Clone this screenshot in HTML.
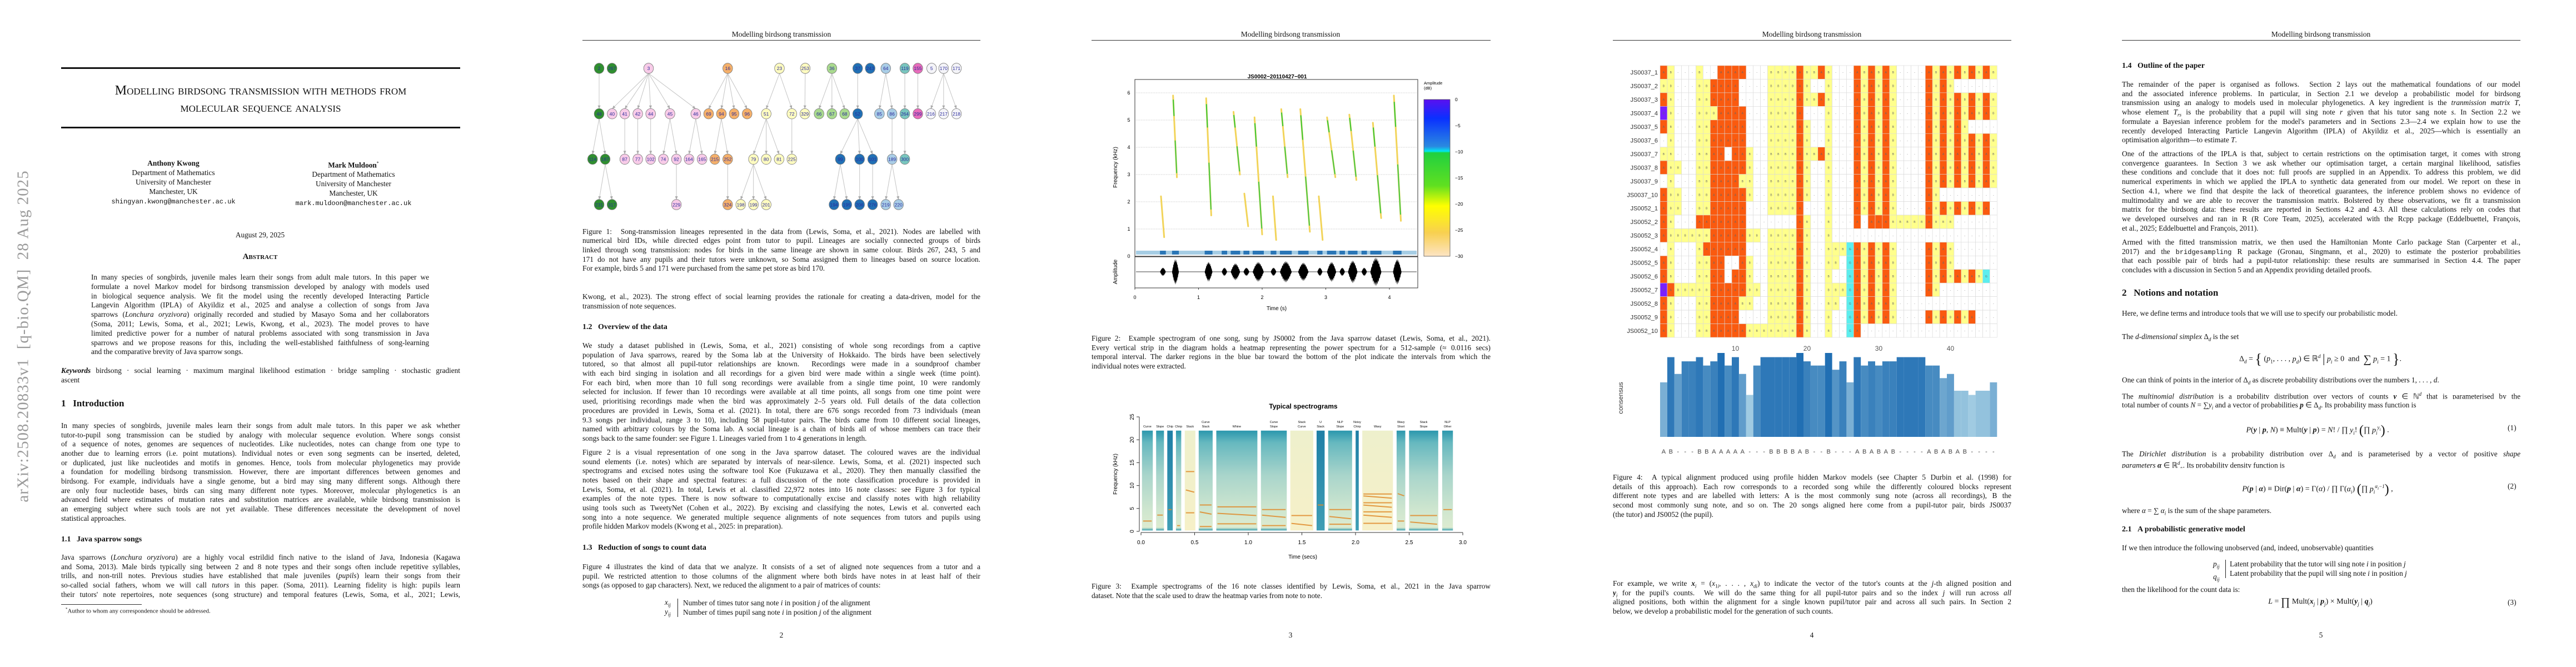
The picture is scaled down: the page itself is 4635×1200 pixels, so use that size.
<!DOCTYPE html>
<html><head><meta charset="utf-8">
<style>
html,body{margin:0;padding:0;background:#fff;}
#root{position:relative;width:4635px;height:1200px;overflow:hidden;background:#fff;font-family:"Liberation Serif",serif;color:#111;}
.t{position:absolute;font-family:"Liberation Serif",serif;font-size:13.3px;line-height:17px;height:17px;overflow:hidden;text-align:justify;text-align-last:justify;white-space:normal;}
.l{text-align-last:left;}
.c{text-align:center;text-align-last:center;}
.h{position:absolute;font-family:"Liberation Serif",serif;font-weight:bold;white-space:nowrap;}
.hdr{position:absolute;font-size:13.5px;white-space:nowrap;transform:translateX(-50%);top:54px;}
.rule{position:absolute;height:1px;background:#333;top:72px;}
.pn{position:absolute;top:1135px;font-size:13.5px;transform:translateX(-50%);}
.mono{font-family:"Liberation Mono",monospace;font-size:12px;}
.ctr{position:absolute;transform:translateX(-50%);white-space:nowrap;font-size:13.3px;line-height:17px;text-align:center;}
svg text{font-family:"Liberation Sans",sans-serif;}
</style></head>
<body>
<div id="root">
<svg id="fig" width="4635" height="1200" style="position:absolute;left:0;top:0" xmlns="http://www.w3.org/2000/svg"></svg>

<!-- arXiv stamp -->
<div style="position:absolute;left:42px;top:605px;transform:translate(-50%,-50%) rotate(-90deg);font-size:29px;color:#9a9a9a;white-space:nowrap;letter-spacing:1px;">arXiv:2508.20833v1 &nbsp;[q-bio.QM] &nbsp;28 Aug 2025</div>

<!-- ===== PAGE 1 ===== -->
<div style="position:absolute;left:110px;top:121px;width:718px;height:3px;background:#111"></div>
<div style="position:absolute;left:110px;top:148px;width:718px;text-align:center;font-size:24px;line-height:31px;font-variant:small-caps;">Modelling birdsong transmission with methods from<br>molecular sequence analysis</div>
<div style="position:absolute;left:110px;top:228px;width:718px;height:3px;background:#111"></div>

<div class="ctr" style="left:312px;top:285px;"><b>Anthony Kwong</b><br>Department of Mathematics<br>University of Manchester<br>Manchester, UK<br><span class="mono">shingyan.kwong@manchester.ac.uk</span></div>
<div class="ctr" style="left:636px;top:285px;"><b>Mark Muldoon</b><sup style="font-size:8px">*</sup><br>Department of Mathematics<br>University of Manchester<br>Manchester, UK<br><span class="mono">mark.muldoon@manchester.ac.uk</span></div>
<div class="ctr" style="left:468px;top:414px;">August 29, 2025</div>
<div class="ctr" style="left:468px;top:454px;font-weight:bold;font-variant:small-caps;font-size:15px;">Abstract</div>

<div class="t" style="left:164px;top:490px;width:608px">In many species of songbirds, juvenile males learn their songs from adult male tutors. In this paper we</div>
<div class="t" style="left:164px;top:507px;width:608px">formulate a novel Markov model for birdsong transmission developed by analogy with models used</div>
<div class="t" style="left:164px;top:524px;width:608px">in biological sequence analysis. We fit the model using the recently developed Interacting Particle</div>
<div class="t" style="left:164px;top:540px;width:608px">Langevin Algorithm (IPLA) of Akyildiz et al., 2025 and analyse a collection of songs from Java</div>
<div class="t" style="left:164px;top:557px;width:608px">sparrows (<i>Lonchura oryzivora</i>) originally recorded and studied by Masayo Soma and her collaborators</div>
<div class="t" style="left:164px;top:574px;width:608px">(Soma, 2011; Lewis, Soma, et al., 2021; Lewis, Kwong, et al., 2023). The model proves to have</div>
<div class="t" style="left:164px;top:591px;width:608px">limited predictive power for a number of natural problems associated with song transmission in Java</div>
<div class="t" style="left:164px;top:608px;width:608px">sparrows and we propose reasons for this, including the well-established faithfulness of song-learning</div>
<div class="t l" style="left:164px;top:624px;width:608px">and the comparative brevity of Java sparrow songs.</div>

<div class="t" style="left:110px;top:658px;width:718px"><b><i>Keywords</i></b> birdsong · social learning · maximum marginal likelihood estimation · bridge sampling · stochastic gradient</div>
<div class="t l" style="left:110px;top:675px;width:718px">ascent</div>

<div class="h" style="left:110px;top:716px;font-size:17px;">1&nbsp;&nbsp;&nbsp;Introduction</div>
<div class="t" style="left:110px;top:757px;width:718px">In many species of songbirds, juvenile males learn their songs from adult male tutors. In this paper we ask whether</div>
<div class="t" style="left:110px;top:774px;width:718px">tutor-to-pupil song transmission can be studied by analogy with molecular sequence evolution. Where songs consist</div>
<div class="t" style="left:110px;top:790px;width:718px">of a sequence of notes, genomes are sequences of nucleotides. Like nucleotides, notes can change from one type to</div>
<div class="t" style="left:110px;top:807px;width:718px">another due to learning errors (i.e. point mutations). Individual notes or even song segments can be inserted, deleted,</div>
<div class="t" style="left:110px;top:824px;width:718px">or duplicated, just like nucleotides and motifs in genomes. Hence, tools from molecular phylogenetics may provide</div>
<div class="t" style="left:110px;top:840px;width:718px">a foundation for modelling birdsong transmission. However, there are important differences between genomes and</div>
<div class="t" style="left:110px;top:857px;width:718px">birdsong. For example, individuals have a single genome, but a bird may sing many different songs. Although there</div>
<div class="t" style="left:110px;top:874px;width:718px">are only four nucleotide bases, birds can sing many different note types. Moreover, molecular phylogenetics is an</div>
<div class="t" style="left:110px;top:890px;width:718px">advanced field where estimates of mutation rates and substitution matrices are available, while birdsong transmission is</div>
<div class="t" style="left:110px;top:907px;width:718px">an emerging subject where such tools are not yet available. These differences necessitate the development of novel</div>
<div class="t l" style="left:110px;top:924px;width:718px">statistical approaches.</div>

<div class="h" style="left:110px;top:963px;font-size:14px;">1.1&nbsp;&nbsp;&nbsp;Java sparrow songs</div>
<div class="t" style="left:110px;top:994px;width:718px">Java sparrows (<i>Lonchura oryzivora</i>) are a highly vocal estrildid finch native to the island of Java, Indonesia (Kagawa</div>
<div class="t" style="left:110px;top:1011px;width:718px">and Soma, 2013). Male birds typically sing between 2 and 8 note types and their songs often include repetitive syllables,</div>
<div class="t" style="left:110px;top:1027px;width:718px">trills, and non-trill notes. Previous studies have established that male juveniles (<i>pupils</i>) learn their songs from their</div>
<div class="t" style="left:110px;top:1044px;width:718px">so-called social fathers, whom we will call <i>tutors</i> in this paper. (Soma, 2011). Learning fidelity is high: pupils learn</div>
<div class="t" style="left:110px;top:1061px;width:718px">their tutors' note repertoires, note sequences (song structure) and temporal features (Lewis, Soma, et al., 2021; Lewis,</div>
<div style="position:absolute;left:110px;top:1087px;width:145px;height:1px;background:#333"></div>
<div style="position:absolute;left:118px;top:1092px;font-size:11px;white-space:nowrap;"><sup style="font-size:7px">*</sup>Author to whom any correspondence should be addressed.</div>

<!-- ===== PAGE 2 ===== -->
<div class="hdr" style="left:1406px">Modelling birdsong transmission</div>
<div class="rule" style="left:1048px;width:716px"></div>
<div class="t" style="left:1048px;top:408px;width:716px">Figure 1:&nbsp; Song-transmission lineages represented in the data from (Lewis, Soma, et al., 2021). Nodes are labelled with</div>
<div class="t" style="left:1048px;top:424px;width:716px">numerical bird IDs, while directed edges point from tutor to pupil. Lineages are socially connected groups of birds</div>
<div class="t" style="left:1048px;top:441px;width:716px">linked through song transmission: nodes for birds in the same lineage are shown in same colour. Birds 267, 243, 5 and</div>
<div class="t" style="left:1048px;top:458px;width:716px">171 do not have any pupils and their tutors were unknown, so Soma assigned them to lineages based on source location.</div>
<div class="t l" style="left:1048px;top:474px;width:716px">For example, birds 5 and 171 were purchased from the same pet store as bird 170.</div>

<div class="t" style="left:1048px;top:525px;width:716px">Kwong, et al., 2023). The strong effect of social learning provides the rationale for creating a data-driven, model for the</div>
<div class="t l" style="left:1048px;top:542px;width:716px">transmission of note sequences.</div>
<div class="h" style="left:1048px;top:581px;font-size:14px;">1.2&nbsp;&nbsp;&nbsp;Overview of the data</div>
<div class="t" style="left:1048px;top:613px;width:716px">We study a dataset published in (Lewis, Soma, et al., 2021) consisting of whole song recordings from a captive</div>
<div class="t" style="left:1048px;top:630px;width:716px">population of Java sparrows, reared by the Soma lab at the University of Hokkaido. The birds have been selectively</div>
<div class="t" style="left:1048px;top:646px;width:716px">tutored, so that almost all pupil-tutor relationships are known.&nbsp; Recordings were made in a soundproof chamber</div>
<div class="t" style="left:1048px;top:663px;width:716px">with each bird singing in isolation and all recordings for a given bird were made within a single week (time point).</div>
<div class="t" style="left:1048px;top:680px;width:716px">For each bird, when more than 10 full song recordings were available from a single time point, 10 were randomly</div>
<div class="t" style="left:1048px;top:696px;width:716px">selected for inclusion. If fewer than 10 recordings were available at all time points, all songs from one time point were</div>
<div class="t" style="left:1048px;top:713px;width:716px">used, prioritising recordings made when the bird was approximately 2–5 years old. Full details of the data collection</div>
<div class="t" style="left:1048px;top:730px;width:716px">procedures are provided in Lewis, Soma et al. (2021). In total, there are 676 songs recorded from 73 individuals (mean</div>
<div class="t" style="left:1048px;top:747px;width:716px">9.3 songs per individual, range 3 to 10), including 58 pupil-tutor pairs. The birds came from 10 different social lineages,</div>
<div class="t" style="left:1048px;top:763px;width:716px">named with arbitrary colours by the Soma lab. A social lineage is a chain of birds all of whose members can trace their</div>
<div class="t l" style="left:1048px;top:780px;width:716px">songs back to the same founder: see Figure 1. Lineages varied from 1 to 4 generations in length.</div>

<div class="t" style="left:1048px;top:805px;width:716px">Figure 2 is a visual representation of one song in the Java sparrow dataset. The coloured waves are the individual</div>
<div class="t" style="left:1048px;top:822px;width:716px">sound elements (i.e. notes) which are separated by intervals of near-silence. Lewis, Soma, et al. (2021) inspected such</div>
<div class="t" style="left:1048px;top:838px;width:716px">spectrograms and excised notes using the software tool Koe (Fukuzawa et al., 2020). They then manually classified the</div>
<div class="t" style="left:1048px;top:855px;width:716px">notes based on their shape and spectral features: a full discussion of the note classification procedure is provided in</div>
<div class="t" style="left:1048px;top:872px;width:716px">Lewis, Soma, et al. (2021). In total, Lewis et al. classified 22,972 notes into 16 note classes: see Figure 3 for typical</div>
<div class="t" style="left:1048px;top:888px;width:716px">examples of the note types. There is now software to computationally excise and classify notes with high reliability</div>
<div class="t" style="left:1048px;top:905px;width:716px">using tools such as TweetyNet (Cohen et al., 2022). By excising and classifying the notes, Lewis et al. converted each</div>
<div class="t" style="left:1048px;top:922px;width:716px">song into a note sequence. We generated multiple sequence alignments of note sequences from tutors and pupils using</div>
<div class="t l" style="left:1048px;top:938px;width:716px">profile hidden Markov models (Kwong et al., 2025: in preparation).</div>

<div class="h" style="left:1048px;top:978px;font-size:14px;">1.3&nbsp;&nbsp;&nbsp;Reduction of songs to count data</div>
<div class="t" style="left:1048px;top:1011px;width:716px">Figure 4 illustrates the kind of data that we analyze. It consists of a set of aligned note sequences from a tutor and a</div>
<div class="t" style="left:1048px;top:1028px;width:716px">pupil. We restricted attention to those columns of the alignment where both birds have notes in at least half of their</div>
<div class="t l" style="left:1048px;top:1044px;width:716px">songs (as opposed to gap characters). Next, we reduced the alignment to a pair of matrices of counts:</div>
<div style="position:absolute;left:1196px;top:1076px;font-size:13.3px;white-space:nowrap;"><i>x<sub style="font-size:9px">ij</sub></i></div>
<div style="position:absolute;left:1196px;top:1093px;font-size:13.3px;white-space:nowrap;"><i>y<sub style="font-size:9px">ij</sub></i></div>
<div style="position:absolute;left:1219px;top:1077px;width:1px;height:33px;background:#222"></div>
<div style="position:absolute;left:1229px;top:1076px;font-size:13.3px;line-height:17px;white-space:nowrap;">Number of times tutor sang note <i>i</i> in position <i>j</i> of the alignment<br>Number of times pupil sang note <i>i</i> in position <i>j</i> of the alignment</div>
<div class="pn" style="left:1406px">2</div>

<!-- ===== PAGE 3 ===== -->
<div class="hdr" style="left:2322px">Modelling birdsong transmission</div>
<div class="rule" style="left:1964px;width:718px"></div>
<div class="t" style="left:1964px;top:600px;width:718px">Figure 2:&nbsp; Example spectrogram of one song, sung by JS0002 from the Java sparrow dataset (Lewis, Soma, et al., 2021).</div>
<div class="t" style="left:1964px;top:617px;width:718px">Every vertical strip in the diagram holds a heatmap representing the power spectrum for a 512-sample (≈ 0.0116 secs)</div>
<div class="t" style="left:1964px;top:633px;width:718px">temporal interval. The darker regions in the blue bar toward the bottom of the plot indicate the intervals from which the</div>
<div class="t l" style="left:1964px;top:650px;width:718px">individual notes were extracted.</div>
<div class="t" style="left:1964px;top:1046px;width:718px">Figure 3:&nbsp; Example spectrograms of the 16 note classes identified by Lewis, Soma, et al., 2021 in the Java sparrow</div>
<div class="t l" style="left:1964px;top:1063px;width:718px">dataset. Note that the scale used to draw the heatmap varies from note to note.</div>
<div class="pn" style="left:2322px">3</div>

<!-- ===== PAGE 4 ===== -->
<div class="hdr" style="left:3260px">Modelling birdsong transmission</div>
<div class="rule" style="left:2902px;width:717px"></div>
<div class="t" style="left:2902px;top:850px;width:717px">Figure 4:&nbsp; A typical alignment produced using profile hidden Markov models (see Chapter 5 Durbin et al. (1998) for</div>
<div class="t" style="left:2902px;top:867px;width:717px">details of this approach). Each row corresponds to a recorded song while the differently coloured blocks represent</div>
<div class="t" style="left:2902px;top:883px;width:717px">different note types and are labelled with letters: A is the most commonly sung note (across all recordings), B the</div>
<div class="t" style="left:2902px;top:900px;width:717px">second most commonly sung note, and so on. The 20 songs aligned here come from a pupil-tutor pair, birds JS0037</div>
<div class="t l" style="left:2902px;top:917px;width:717px">(the tutor) and JS0052 (the pupil).</div>
<div class="t" style="left:2902px;top:1041px;width:717px">For example, we write <b><i>x</i></b><sub style="font-size:9px"><i>j</i></sub> = (<i>x</i><sub style="font-size:9px">1<i>j</i></sub>, . . . , <i>x<sub style="font-size:9px">dj</sub></i>) to indicate the vector of the tutor's counts at the <i>j</i>-th aligned position and</div>
<div class="t" style="left:2902px;top:1058px;width:717px"><b><i>y</i></b><sub style="font-size:9px"><i>j</i></sub> for the pupil's counts.&nbsp; We will do the same thing for all pupil-tutor pairs and so the index <i>j</i> will run across <i>all</i></div>
<div class="t" style="left:2902px;top:1074px;width:717px">aligned positions, both within the alignment for a single known pupil/tutor pair and across all such pairs. In Section 2</div>
<div class="t l" style="left:2902px;top:1091px;width:717px">below, we develop a probabilistic model for the generation of such counts.</div>
<div class="pn" style="left:3260px">4</div>

<!-- ===== PAGE 5 ===== -->
<div class="hdr" style="left:4176px">Modelling birdsong transmission</div>
<div class="rule" style="left:3818px;width:717px"></div>
<div class="h" style="left:3818px;top:111px;font-size:14px;">1.4&nbsp;&nbsp;&nbsp;Outline of the paper</div>
<div class="t" style="left:3818px;top:143px;width:717px">The remainder of the paper is organised as follows.&nbsp; Section 2 lays out the mathematical foundations of our model</div>
<div class="t" style="left:3818px;top:160px;width:717px">and the associated inference problems. In particular, in Section 2.1 we develop a probabilistic model for birdsong</div>
<div class="t" style="left:3818px;top:176px;width:717px">transmission using an analogy to models used in molecular phylogenetics. A key ingredient is the <i>tranmission matrix T</i>,</div>
<div class="t" style="left:3818px;top:193px;width:717px">whose element <i>T<sub style="font-size:9px">rs</sub></i> is the probability that a pupil will sing note <i>r</i> given that his tutor sang note <i>s</i>. In Section 2.2 we</div>
<div class="t" style="left:3818px;top:210px;width:717px">formulate a Bayesian inference problem for the model's parameters and in Sections 2.3—2.4 we explain how to use the</div>
<div class="t" style="left:3818px;top:227px;width:717px">recently developed Interacting Particle Langevin Algorithm (IPLA) of Akyildiz et al., 2025—which is essentially an</div>
<div class="t l" style="left:3818px;top:243px;width:717px">optimisation algorithm—to estimate <i>T</i>.</div>

<div class="t" style="left:3818px;top:268px;width:717px">One of the attractions of the IPLA is that, subject to certain restrictions on the optimisation target, it comes with strong</div>
<div class="t" style="left:3818px;top:285px;width:717px">convergence guarantees. In Section 3 we ask whether our optimisation target, a certain marginal likelihood, satisfies</div>
<div class="t" style="left:3818px;top:301px;width:717px">these conditions and conclude that it does not: full proofs are supplied in an Appendix. To address this problem, we did</div>
<div class="t" style="left:3818px;top:318px;width:717px">numerical experiments in which we applied the IPLA to synthetic data generated from our model. We report on these in</div>
<div class="t" style="left:3818px;top:335px;width:717px">Section 4.1, where we find that despite the lack of theoretical guarantees, the inference problem shows no evidence of</div>
<div class="t" style="left:3818px;top:352px;width:717px">multimodality and we are able to recover the transmission matrix. Bolstered by these observations, we fit a transmission</div>
<div class="t" style="left:3818px;top:368px;width:717px">matrix for the birdsong data: these results are reported in Sections 4.2 and 4.3. All these calculations rely on codes that</div>
<div class="t" style="left:3818px;top:385px;width:717px">we developed ourselves and ran in R (R Core Team, 2025), accelerated with the Rcpp package (Eddelbuettel, François,</div>
<div class="t l" style="left:3818px;top:402px;width:717px">et al., 2025; Eddelbuettel and François, 2011).</div>

<div class="t" style="left:3818px;top:427px;width:717px">Armed with the fitted transmission matrix, we then used the Hamiltonian Monte Carlo package Stan (Carpenter et al.,</div>
<div class="t" style="left:3818px;top:444px;width:717px">2017) and the <span class="mono">bridgesampling</span> R package (Gronau, Singmann, et al., 2020) to estimate the posterior probabilities</div>
<div class="t" style="left:3818px;top:460px;width:717px">that each possible pair of birds had a pupil-tutor relationship: these results are summarised in Section 4.4. The paper</div>
<div class="t l" style="left:3818px;top:477px;width:717px">concludes with a discussion in Section 5 and an Appendix providing detailed proofs.</div>

<div class="h" style="left:3818px;top:517px;font-size:17px;">2&nbsp;&nbsp;&nbsp;Notions and notation</div>
<div class="t l" style="left:3818px;top:555px;width:717px">Here, we define terms and introduce tools that we will use to specify our probabilistic model.</div>
<div class="t l" style="left:3818px;top:597px;width:717px">The <i>d-dimensional simplex</i> Δ<sub style="font-size:9px"><i>d</i></sub> is the set</div>
<div class="ctr" style="left:4175px;top:633px;font-size:14px;">Δ<sub style="font-size:9px"><i>d</i></sub> = <span style="font-size:26px;vertical-align:-5px">{</span> (<i>p</i><sub style="font-size:9px">1</sub>, . . . , <i>p<sub style="font-size:9px">d</sub></i>) ∈ ℝ<sup style="font-size:9px"><i>d</i></sup> <span style="font-size:22px;vertical-align:-3px">|</span> <i>p<sub style="font-size:9px">i</sub></i> ≥ 0 &nbsp;and&nbsp; <span style="font-size:20px;vertical-align:-3px">∑</span> <i>p<sub style="font-size:9px">i</sub></i> = 1 <span style="font-size:26px;vertical-align:-5px">}</span>.</div>
<div class="t l" style="left:3818px;top:675px;width:717px">One can think of points in the interior of Δ<sub style="font-size:9px"><i>d</i></sub> as discrete probability distributions over the numbers 1, . . . , <i>d</i>.</div>
<div class="t" style="left:3818px;top:701px;width:717px">The <i>multinomial distribution</i> is a probability distribution over vectors of counts <b><i>y</i></b> ∈ ℕ<sup style="font-size:9px"><i>d</i></sup> that is parameterised by the</div>
<div class="t l" style="left:3818px;top:720px;width:717px">total number of counts <i>N</i> = ∑<i>y<sub style="font-size:9px">i</sub></i> and a vector of probabilities <b><i>p</i></b> ∈ Δ<sub style="font-size:9px"><i>d</i></sub>. Its probability mass function is</div>
<div class="ctr" style="left:4170px;top:761px;font-size:14px;"><i>P</i>(<b><i>y</i></b> | <b><i>p</i></b>, <i>N</i>) ≡ Mult(<b><i>y</i></b> | <b><i>p</i></b>) = <i>N</i>! / ∏ <i>y<sub style="font-size:9px">i</sub></i>! <span style="font-size:24px;vertical-align:-4px">(</span>∏ <i>p<sub style="font-size:9px">i</sub><sup style="font-size:9px">y<sub>i</sub></sup></i><span style="font-size:24px;vertical-align:-4px">)</span> .</div>
<div style="position:absolute;left:4512px;top:762px;font-size:13.3px;">(1)</div>
<div class="t" style="left:3818px;top:808px;width:717px">The <i>Dirichlet distribution</i> is a probability distribution over Δ<sub style="font-size:9px"><i>d</i></sub> and is parameterised by a vector of positive <i>shape</i></div>
<div class="t l" style="left:3818px;top:825px;width:717px"><i>parameters</i> <b><i>α</i></b> ∈ ℝ<sup style="font-size:9px"><i>d</i></sup><sub style="font-size:9px">+</sub>. Its probability density function is</div>
<div class="ctr" style="left:4170px;top:867px;font-size:14px;"><i>P</i>(<b><i>p</i></b> | <b><i>α</i></b>) ≡ Dir(<b><i>p</i></b> | <b><i>α</i></b>) = Γ(<i>α</i>) / ∏ Γ(<i>α<sub style="font-size:9px">i</sub></i>) <span style="font-size:24px;vertical-align:-4px">(</span>∏ <i>p<sub style="font-size:9px">i</sub><sup style="font-size:9px">α<sub>i</sub>−1</sup></i><span style="font-size:24px;vertical-align:-4px">)</span> ,</div>
<div style="position:absolute;left:4512px;top:867px;font-size:13.3px;">(2)</div>
<div class="t l" style="left:3818px;top:910px;width:717px">where <i>α</i> = ∑ <i>α<sub style="font-size:9px">i</sub></i> is the sum of the shape parameters.</div>
<div class="h" style="left:3818px;top:945px;font-size:14px;">2.1&nbsp;&nbsp;&nbsp;A probabilistic generative model</div>
<div class="t l" style="left:3818px;top:977px;width:717px">If we then introduce the following unobserved (and, indeed, unobservable) quantities</div>
<div style="position:absolute;left:3982px;top:1006px;font-size:13.3px;line-height:17px;"><i>p<sub style="font-size:9px">ij</sub></i><br><i>q<sub style="font-size:9px">ij</sub></i></div>
<div style="position:absolute;left:4004px;top:1007px;width:1px;height:33px;background:#222"></div>
<div style="position:absolute;left:4012px;top:1006px;font-size:13.3px;line-height:17px;white-space:nowrap;">Latent probability that the tutor will sing note <i>i</i> in position <i>j</i><br>Latent probability that the pupil will sing note <i>i</i> in position <i>j</i></div>
<div class="t l" style="left:3818px;top:1052px;width:717px">then the likelihood for the count data is:</div>
<div class="ctr" style="left:4175px;top:1074px;font-size:14px;"><i>L</i> = <span style="font-size:20px;vertical-align:-3px">∏</span> Mult(<b><i>x</i></b><sub style="font-size:9px"><i>j</i></sub> | <b><i>p</i></b><sub style="font-size:9px"><i>j</i></sub>) × Mult(<b><i>y</i></b><sub style="font-size:9px"><i>j</i></sub> | <b><i>q</i></b><sub style="font-size:9px"><i>j</i></sub>)</div>
<div style="position:absolute;left:4512px;top:1076px;font-size:13.3px;">(3)</div>
<div class="pn" style="left:4176px">5</div>
</div>

<script>
// ================= DATA =================
// Figure 4 heatmap rows (47 aligned positions each)
const hmLabels = ["JS0037_1","JS0037_2","JS0037_3","JS0037_4","JS0037_5","JS0037_6","JS0037_7","JS0037_8","JS0037_9","JS0037_10",
  "JS0052_1","JS0052_2","JS0052_3","JS0052_4","JS0052_5","JS0052_6","JS0052_7","JS0052_8","JS0052_9","JS0052_10"];
const hmRows = [
  "AB---B--AAAA---BBBBABBAB-"+"--ABABAB----ABABABABAB",
  "BB---BBAAAA----BBBBAB--B-"+"--ABABAB----ABAB------",
  "AB---BBAAAA----BBBBABBAB-"+"--ABABAB----ABABABABAB",
  "DB---BBBAAAA---BBBBA---B-"+"--ABABAB----ABABABABAB",
  "AB---BBAAAAA---BBBBAB--B-"+"--ABABAB----ABABAB----",
  "-B---BBAAAAA---BBBBAB--B-"+"--ABABAB----ABABABABAB",
  "BB---BBAA-AAB--BBBBABBAB-"+"--ABABAB----ABABABABAB",
  "ABB--BBAAAAAB--BBBBAB--B-"+"--ABABAB----ABABABABAB",
  "-B---BBAAAABB--BBBBAB--B-"+"--ABABAB----ABABABABAB",
  "ABB--BBAAAAAB--BBBBAB--B-"+"--ABABAB----AB--------",
  "ABB--BBAAAAA---BBBBA---B-"+"--ABABAB----ABABABABA-",
  "AB---AAAAAAA-------AB--B-"+"--A-AAABBBBBABBB------",
  "ABBBBBBAAAAABB-BBBBAB--B-"+"----------------------",
  "-B---BAAAAAA---BBBBAB--BB"+"BGABABAB----ABAB------",
  "AB---BBAA--AB--BBBBAB--BB"+"-GABABAB----ABAB------",
  "AB---BBAA-AAB--BBBBAB--B-"+"-GABABAB----ABABABABG-",
  "DABBBBBAAAAABB-BBBBAB--BB"+"BGABABAB----AB--------",
  "AB---BBAAAABB--BBBBAB--BB"+"-GABABAB--------------",
  "AB---BBAAAA----BBBBAB--B-"+"-GABABAB----ABABABA---",
  "AB---BBAAAAABBBBBBBAB--B-"+"-GA-------------------"
];
const hmTicks = [10, 20, 30, 40];
// consensus bar heights (number of songs agreeing, out of 20)
const consensusValues = [13,19,15,18,18,19,17,18,20,17,19,15,10,17,19,19,19,19,19,20,18,17,17,20,16,18,13,19,17,18,17,18,18,19,19,19,19,17,17,14,15,11,11,10,11,11,13];
const consensusLetters = "AB---BBAAAAA---BBBBAB--B---ABABAB----ABABAB----";

// Figure 2: spectrogram of JS0002
const fig2FreqTicks = [0,1,2,3,4,5,6];
const fig2TimeTicks = [0,1,2,3,4];
const fig2DbTicks = [0,-5,-10,-15,-20,-25,-30];
const noteStart = [0.394,0.584,1.097,1.364,1.506,1.706,1.851,2.134,2.279,2.565,2.866,3.019,3.216,3.349,3.561,3.699,4.056];
const noteEnd   = [0.487,0.691,1.219,1.450,1.654,1.799,2.026,2.223,2.465,2.729,2.948,3.164,3.301,3.498,3.647,3.874,4.190];
const noteAmp   = [0.3,0.9,0.7,0.3,0.6,0.3,0.7,0.3,0.75,0.65,0.3,0.7,0.3,0.8,0.3,1.0,0.9];
const traceT0 = [0.60,1.12,1.55,1.88,2.30,2.60,3.02,3.37,3.74,4.07,0.41,1.72,2.17,2.89];
const traceF0 = [5.9,5.8,5.3,5.1,5.4,5.4,5.1,5.2,4.9,5.9,2.2,2.3,2.2,2.2];
const traceT1 = [0.66,1.20,1.65,2.00,2.40,2.75,3.15,3.48,3.87,4.18,0.46,1.78,2.22,2.95];
const traceF1 = [2.9,1.5,3.0,0.8,2.9,0.9,2.9,2.8,1.4,1.3,0.7,1.1,0.6,0.6];

// Figure 3: typical spectrograms of 16 note classes
const fig3TimeTicks = [0.0,0.5,1.0,1.5,2.0,2.5,3.0];
const fig3FreqTicks = [0,5,10,15,20,25];
const noteClassTop = ["","","","","","Curve","","Curve","Stack","U","NLP","Noisy","","Wavy","Stack","NLP"];
const noteClassBot = ["Curve","Slope","Chip","Chirp","Stack","Stack","Whine","Slope","Curve","Stack","Slope","Chirp","Wavy","Short","Slope","Other"];
const classStart = [0.009,0.141,0.245,0.326,0.408,0.538,0.702,1.118,1.392,1.637,1.745,2.001,2.063,2.383,2.499,2.808];
const classEnd   = [0.110,0.214,0.296,0.375,0.507,0.668,1.085,1.359,1.606,1.712,1.968,2.030,2.349,2.464,2.771,2.908];
const harmonics = [[2.5],[3.8],[5],[1.5],[4.3,8.8,13.3],[1.3,4,6],[1.9,3.7,5.6],[1.5,3.3,5],[3.7,1.5],[6],[5,3,1.8],[],[2,3.3,4.5,5.5,6.5,7.5,8.4],[2.5,8],[3.7,1.8],[5]];

// Figure 1: lineage tree
const nodeIds = [2,267,3,16,23,253,36,37,243,64,119,155,5,170,171,
  48,40,41,42,44,45,46,69,94,95,96,51,72,329,66,67,68,52,85,86,264,299,216,217,218,
  114,187,87,77,102,74,92,164,165,215,252,79,80,81,225,99,100,101,189,300,
  231,317,229,324,198,199,201,194,195,206,276,219,220];
const nodeGen = [0,0,0,0,0,0,0,0,0,0,0,0,0,0,0,
  1,1,1,1,1,1,1,1,1,1,1,1,1,1,1,1,1,1,1,1,1,1,1,1,1,
  2,2,2,2,2,2,2,2,2,2,2,2,2,2,2,2,2,2,2,2,
  3,3,3,3,3,3,3,3,3,3,3,3,3];
const nodeSlot = [0,1,3.84,9.98,14,16,18.07,20.07,21.04,22.25,23.73,24.74,25.81,26.74,27.74,
  0,1.01,1.99,3,4,5.5,7.5,8.5,9.49,10.48,11.49,12.97,14.96,15.97,17.07,18.07,19.06,20.07,21.76,22.74,23.73,24.74,25.75,26.74,27.74,
  -0.51,0.47,1.99,3,4,4.99,6,6.98,7.99,8.98,9.98,11.98,12.97,13.97,14.96,18.72,20.22,21.23,22.74,23.73,
  0,1,6,9.98,10.99,11.98,12.97,18.23,19.23,20.22,21.23,22.25,23.24];
const nodeLineage = ["g","g","p","o","y","y","l","b","b","s","t","m","w","w","w",
  "g","p","p","p","p","p","p","o","o","o","o","y","y","y","l","l","l","b","s","s","t","m","w","w","w",
  "g","g","p","p","p","p","p","p","p","o","o","y","y","y","y","b","b","b","s","t",
  "g","g","p","o","y","y","y","b","b","b","b","s","s"];
const edgeFrom = [2,3,3,3,3,3,3,16,16,16,16,23,23,253,36,36,36,37,64,64,119,155,170,170,170,48,48,41,42,44,45,45,46,46,94,94,51,51,51,72,52,52,52,86,264,187,187,92,252,79,79,79,99,99,100,101,189,189];
const edgeTo   = [48,40,41,42,44,45,46,69,94,95,96,51,72,329,66,67,68,52,85,86,264,299,216,217,218,114,187,87,77,102,74,92,164,165,215,252,79,80,81,225,99,100,101,189,300,231,317,229,324,198,199,201,194,195,206,276,219,220];

// ================= DRAWING =================
const NS = "http://www.w3.org/2000/svg";
const svg = document.getElementById('fig');
function mk(tag, attrs, parent){ const e=document.createElementNS(NS,tag); for(const k in attrs) e.setAttribute(k,attrs[k]); (parent||svg).appendChild(e); return e; }
function grp(){ const g=document.createElementNS(NS,'g'); svg.appendChild(g); return g; }

// ---------- Figure 1 tree ----------
const treeG = grp();


const lineageFill = {g:'#2f8f2f',p:'#f8cbe8',o:'#f5b06a',y:'#fffcc0',l:'#a9da8e',b:'#2170b5',s:'#a9cde6',t:'#79c6be',m:'#e86cbb',w:'#f4f4f8'};
const tX = s => 1078 + s*23.18;
const tY = r => 123 + r*81.7;
const nodeIndex = {};
nodeIds.forEach((id,i)=>{ nodeIndex[id]=i; });
edgeFrom.forEach((f,k)=>{
  const a=nodeIndex[f], b=nodeIndex[edgeTo[k]];
  const x1=tX(nodeSlot[a]), y1=tY(nodeGen[a])+9, x2=tX(nodeSlot[b]), y2=tY(nodeGen[b])-9;
  const ln = mk('line',{x1:x1,y1:y1,x2:x2,y2:y2,stroke:'#c4c4c4','stroke-width':1},treeG);
  
  
  const ang=Math.atan2(y2-y1,x2-x1), L=6, w=2.5;
  const p1=[x2-L*Math.cos(ang)+w*Math.sin(ang), y2-L*Math.sin(ang)-w*Math.cos(ang)];
  const p2=[x2-L*Math.cos(ang)-w*Math.sin(ang), y2-L*Math.sin(ang)+w*Math.cos(ang)];
  const ar = mk('polygon',{points:`${x2},${y2} ${p1[0]},${p1[1]} ${p2[0]},${p2[1]}`,fill:'#aaa'},treeG);
  
  
});
nodeIds.forEach((id,i)=>{
  const cx=tX(nodeSlot[i]), cy=tY(nodeGen[i]);
  const c = mk('ellipse',{cx:cx,cy:cy,rx:8.8,ry:9.3,fill:lineageFill[nodeLineage[i]],stroke:'#777','stroke-width':0.8},treeG);
  
  
  const t = mk('text',{x:cx,y:cy+3.2,'text-anchor':'middle','font-size':8.5,fill:'#2a2a9a'},treeG);
  t.textContent=id;
  
  
});

// ---------- Figure 2 spectrogram ----------
const f2G = grp();


const f2x = t => 2042 + t*114.5;
const f2y = f => 461 - f*49;
const f2title = mk('text',{x:2298,y:141,'text-anchor':'middle','font-size':10,'font-weight':'bold'},f2G);
f2title.textContent='JS0002−20110427−001';


fig2FreqTicks.forEach(f=>{
  if(f>0){
    const gl = mk('line',{x1:2044,x2:2549,y1:f2y(f),y2:f2y(f),stroke:'#bbb','stroke-dasharray':'1.5,1.5','stroke-width':0.8},f2G);
    
    
  }
  const tl = mk('text',{x:2031,y:f2y(f)+3,'text-anchor':'middle','font-size':9},f2G);
  tl.textContent=f;
  
  
});
traceT0.forEach((t0,i)=>{
  const x1=f2x(t0), y1=f2y(traceF0[i]), x2=f2x(traceT1[i]), y2=f2y(traceF1[i]);
  const tr = mk('line',{x1:x1,y1:y1,x2:x2,y2:y2,stroke:'#f2d45a','stroke-width':3,'stroke-linecap':'round'},f2G);
  
  
  if(i<10){
    const gx1=x1+(x2-x1)*0.05, gy1=y1+(y2-y1)*0.05, gx2=x1+(x2-x1)*0.25, gy2=y1+(y2-y1)*0.25;
    const gs = mk('line',{x1:gx1,y1:gy1,x2:gx2,y2:gy2,stroke:'#38c838','stroke-width':2},f2G);
    
    
    const hx1=x1+(x2-x1)*0.55, hy1=y1+(y2-y1)*0.55, hx2=x1+(x2-x1)*0.95, hy2=y1+(y2-y1)*0.95;
    const hs = mk('line',{x1:hx1,y1:hy1,x2:hx2,y2:hy2,stroke:'#46c846','stroke-width':2},f2G);
    
    
  }
});
const band = mk('rect',{x:2044,y:451,width:505,height:7,fill:'#a6cde4'},f2G);


noteStart.forEach((s,i)=>{
  const r = mk('rect',{x:f2x(s),y:451,width:f2x(noteEnd[i])-f2x(s),height:7,fill:'#2a76b6'},f2G);
  
  
  const cx=(f2x(s)+f2x(noteEnd[i]))/2, hw=(f2x(noteEnd[i])-f2x(s))/2;
  let pts=[];
  for(let k=0;k<=20;k++){ const x=cx-hw+2*hw*k/20; const env=Math.sin(Math.PI*k/20)*noteAmp[i]*26*(k%2?0.75:1); pts.push(`${x},${489-env}`); }
  for(let k=20;k>=0;k--){ const x=cx-hw+2*hw*k/20; const env=Math.sin(Math.PI*k/20)*noteAmp[i]*26*(k%2?1:0.7); pts.push(`${x},${489+env}`); }
  const w = mk('polygon',{points:pts.join(' '),fill:'#000'},f2G);
  
  
});
const wl = mk('line',{x1:2044,x2:2549,y1:489,y2:489,stroke:'#000','stroke-width':0.8},f2G);


const box1 = mk('rect',{x:2042,y:143,width:509,height:318,fill:'none',stroke:'#333','stroke-width':1},f2G);


const box2 = mk('rect',{x:2042,y:462,width:509,height:56,fill:'none',stroke:'#333','stroke-width':1},f2G);


fig2TimeTicks.forEach(t=>{
  const tk = mk('line',{x1:f2x(t),x2:f2x(t),y1:518,y2:521,stroke:'#333'},f2G);
  
  
  const tl = mk('text',{x:f2x(t),y:538,'text-anchor':'middle','font-size':9},f2G);
  tl.textContent=t;
  
  
});
const f2xl = mk('text',{x:2297,y:558,'text-anchor':'middle','font-size':10},f2G);
f2xl.textContent='Time (s)';


const f2yl = mk('text',{x:0,y:0,'text-anchor':'middle','font-size':10,transform:'translate(2010,301) rotate(-90)'},f2G);
f2yl.textContent='Frequency (kHz)';


const f2al = mk('text',{x:0,y:0,'text-anchor':'middle','font-size':10,transform:'translate(2010,489) rotate(-90)'},f2G);
f2al.textContent='Amplitude';


// colorbar
const defs = mk('defs',{});
const lg = mk('linearGradient',{id:'cbar',x1:0,y1:0,x2:0,y2:1},defs);
[['0','#5a10f0'],['0.12','#0a30ff'],['0.3','#2a8ae0'],['0.33','#00e8f0'],['0.34','#20d040'],['0.55','#60e020'],['0.68','#ffff00'],['0.85','#f8d050'],['1','#fde4c4']].forEach(s=>mk('stop',{offset:s[0],'stop-color':s[1]},lg));
const dbY = d => 179 + (-d/30)*(461-179);
const cb = mk('rect',{x:2562,y:179,width:47,height:282,fill:'url(#cbar)',stroke:'#555','stroke-width':0.8},f2G);


fig2DbTicks.forEach(d=>{
  const tl = mk('text',{x:2618,y:dbY(d)+3,'font-size':8.5},f2G);
  tl.textContent = d===0 ? '0' : '−'+(-d);
  
  
});
const cbt = mk('text',{x:2562,y:152,'font-size':7.5},f2G);
cbt.textContent='Amplitude';


const cbt2 = mk('text',{x:2562,y:161,'font-size':7.5},f2G);
cbt2.textContent='(dB)';



// ---------- Figure 3 typical spectrograms ----------
const f3G = grp();


const f3x = t => 2053 + t*193;
const f3y = f => 956 - f*8.24;
const lg2 = mk('linearGradient',{id:'teal',x1:0,y1:0,x2:0,y2:1},defs);
[['0','#2b97ad'],['0.12','#66b8bf'],['0.45','#a9d5cb'],['0.8','#cfe6cf'],['0.97','#dcebd0'],['1','#3a9fb0']].forEach(s=>mk('stop',{offset:s[0],'stop-color':s[1]},lg2));
const lg3 = mk('linearGradient',{id:'pale',x1:0,y1:0,x2:0,y2:1},defs);
[['0','#eef0cc'],['1','#f6f0c8']].forEach(s=>mk('stop',{offset:s[0],'stop-color':s[1]},lg3));
const lg4 = mk('linearGradient',{id:'dark',x1:0,y1:0,x2:0,y2:1},defs);
[['0','#1f7fa6'],['1','#3f9eb5']].forEach(s=>mk('stop',{offset:s[0],'stop-color':s[1]},lg4));
const panelFill = ['url(#teal)','url(#teal)','url(#dark)','url(#teal)','url(#pale)','url(#teal)','url(#teal)','url(#teal)','url(#pale)','url(#dark)','url(#teal)','url(#dark)','url(#pale)','url(#teal)','url(#teal)','url(#teal)'];
const f3t = mk('text',{x:2345,y:735,'text-anchor':'middle','font-size':12,'font-weight':'bold'},f3G);
f3t.textContent='Typical spectrograms';


classStart.forEach((s,i)=>{
  const x=f3x(s), w=f3x(classEnd[i])-f3x(s);
  const r = mk('rect',{x:x,y:f3y(22),width:w,height:f3y(0.2)-f3y(22),fill:panelFill[i]},f3G);
  
  
  harmonics[i].forEach((h,j)=>{
    const hl = mk('line',{x1:x+2,x2:x+w-2,y1:f3y(h)-(j%2?1:-1)*2,y2:f3y(h)+2,stroke:'#e08a2a','stroke-width':2,opacity:0.85},f3G);
    
    
  });
  const cx=x+w/2;
  if(noteClassTop[i]){
    const lt = mk('text',{x:cx,y:761,'text-anchor':'middle','font-size':5.5},f3G);
    lt.textContent=noteClassTop[i];
    
    
  }
  const lb = mk('text',{x:cx,y:769,'text-anchor':'middle','font-size':5.5},f3G);
  lb.textContent=noteClassBot[i];
  
  
});
const f3ax = mk('line',{x1:f3x(0),x2:f3x(3),y1:958,y2:958,stroke:'#333'},f3G);


const f3ay = mk('line',{x1:2050,x2:2050,y1:f3y(0),y2:f3y(25),stroke:'#333'},f3G);


fig3TimeTicks.forEach(t=>{
  const tk = mk('line',{x1:f3x(t),x2:f3x(t),y1:958,y2:963,stroke:'#333'},f3G);
  
  
  const tl = mk('text',{x:f3x(t),y:979,'text-anchor':'middle','font-size':10},f3G);
  tl.textContent=t.toFixed(1);
  
  
});
fig3FreqTicks.forEach(f=>{
  const tk = mk('line',{x1:2045,x2:2050,y1:f3y(f),y2:f3y(f),stroke:'#333'},f3G);
  
  
  const tl = mk('text',{x:0,y:0,'text-anchor':'middle','font-size':10,transform:`translate(2040,${f3y(f)}) rotate(-90)`},f3G);
  tl.textContent=f;
  
  
});
const f3xl = mk('text',{x:2344,y:1005,'text-anchor':'middle','font-size':10},f3G);
f3xl.textContent='Time (secs)';


const f3yl = mk('text',{x:0,y:0,'text-anchor':'middle','font-size':10,transform:'translate(2010,853) rotate(-90)'},f3G);
f3yl.textContent='Frequency (kHz)';



// ---------- Figure 4 alignment heatmap ----------
const f4G = grp();


const cellColor = {A:'#fa5a0f',B:'#ffff8c','-':'#ffffff',D:'#7a1fff',G:'#5ceeee'};
const cw = 12.9, rh = 24.45, gx0 = 2987, gy0 = 118;
const colX = j => gx0 + j*cw;
const rowY = i => gy0 + i*rh;
hmRows.forEach((row,i)=>{
  const lab = mk('text',{x:2983,y:rowY(i)+rh/2+4,'text-anchor':'end','font-size':11,fill:'#333'},f4G);
  lab.textContent=hmLabels[i];
  
  
  for(let j=0;j<row.length;j++){
    const ch=row[j];
    const r = mk('rect',{x:colX(j),y:rowY(i),width:cw,height:rh,fill:cellColor[ch]||'#fff',stroke:'#d8d8d8','stroke-width':0.6},f4G);
    
    
    const tx = mk('text',{x:colX(j)+cw/2,y:rowY(i)+rh/2+2,'text-anchor':'middle','font-size':5,fill:'#666'},f4G);
    tx.textContent=ch;
    
    
  }
});
hmTicks.forEach(k=>{
  const tl = mk('text',{x:colX(k)+cw/2,y:631,'text-anchor':'middle','font-size':12,fill:'#555'},f4G);
  tl.textContent=k;
  
  
});
// consensus bars
const barBase = 786, barUnit = 7.55;
function barColor(v){ const t=Math.max(0,Math.min(1,(v-10)/10)); const a=[0xa0,0xcb,0xe2], b=[0x21,0x6f,0xb3]; return `rgb(${Math.round(a[0]+(b[0]-a[0])*t)},${Math.round(a[1]+(b[1]-a[1])*t)},${Math.round(a[2]+(b[2]-a[2])*t)})`; }
consensusValues.forEach((v,j)=>{
  const b = mk('rect',{x:colX(j),y:barBase-v*barUnit,width:cw,height:v*barUnit,fill:barColor(v)},f4G);
  
  
});
for(let j=0;j<consensusLetters.length;j++){
  const t = mk('text',{x:colX(j)+cw/2,y:816,'text-anchor':'middle','font-size':11,fill:'#444'},f4G);
  t.textContent=consensusLetters[j];
  
  
}
const cons = mk('text',{x:0,y:0,'text-anchor':'middle','font-size':12,fill:'#333',transform:'translate(2920,716) rotate(-90)'},f4G);
cons.textContent='consensus';


</script>
</body></html>
